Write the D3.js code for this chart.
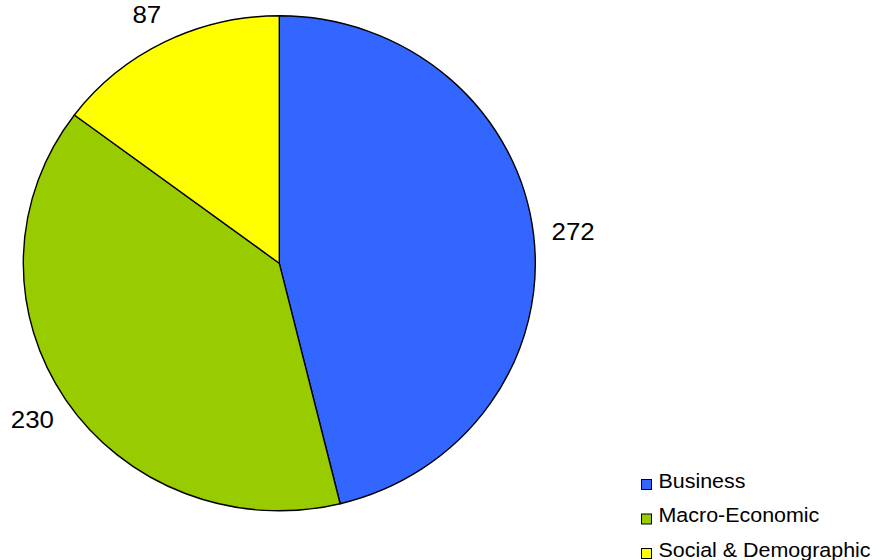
<!DOCTYPE html>
<html>
<head>
<meta charset="utf-8">
<script src="https://cdn.jsdelivr.net/npm/d3@7"></script>
<style>
  html, body { margin: 0; padding: 0; background: #fff; }
  svg { display: block; }
  text { font-family: "Liberation Sans", Arial, sans-serif; fill: #000; }
</style>
</head>
<body>
<svg id="chart" width="883" height="560"></svg>
<script>
// Counts per category
const categories = ["Business", "Macro-Economic", "Social & Demographic"];
const values = [272, 230, 87];
const colors = ["#3366FF", "#99CC00", "#FFFF00"];

const W = 883, H = 560;
const cx = 279.3, cy = 263.3;
const rx = 256, ry = 247.5;          // slightly oval pie
const textStretch = 1.1;             // horizontal stretch of all text

const svg = d3.select("#chart");

const pie = d3.pie().sort(null).value(d => d.value);
const arcs = pie(categories.map((c, i) => ({ name: c, value: values[i], color: colors[i] })));

const arc = d3.arc().innerRadius(0).outerRadius(rx);

const pieG = svg.append("g")
  .attr("transform", `translate(${cx},${cy}) scale(1,${ry / rx})`);

pieG.selectAll("path")
  .data(arcs)
  .join("path")
  .attr("d", arc)
  .attr("fill", d => d.data.color)
  .attr("stroke", "#000")
  .attr("stroke-width", 1.4)
  .attr("stroke-linejoin", "round")
  .attr("vector-effect", "non-scaling-stroke");

// Value labels outside each slice
const labelRx = 296, labelRy = 280, labelCy = cy + 1.5;
svg.selectAll("text.value")
  .data(arcs)
  .join("text")
  .attr("class", "value")
  .attr("transform", d => {
    const a = (d.startAngle + d.endAngle) / 2;
    const x = cx + Math.sin(a) * labelRx;
    const y = labelCy - Math.cos(a) * labelRy;
    return `translate(${x},${y}) scale(${textStretch},1)`;
  })
  .attr("text-anchor", "middle")
  .attr("dy", "0.36em")
  .style("font-size", "23.5px")
  .text(d => d.data.value);

// Legend
const legend = svg.append("g").attr("transform", "translate(641,479)");
const rowH = 34.5;
const rows = legend.selectAll("g")
  .data(categories)
  .join("g")
  .attr("transform", (d, i) => `translate(0,${i * rowH})`);

rows.append("rect")
  .attr("x", 0.5).attr("y", 0.5)
  .attr("width", 10).attr("height", 10)
  .attr("fill", (d, i) => colors[i])
  .attr("stroke", "#000")
  .attr("stroke-width", 1);

rows.append("text")
  .attr("transform", `translate(17.5,8.5) scale(${textStretch},1)`)
  .style("font-size", "19.5px")
  .text(d => d);
</script>
</body>
</html>
